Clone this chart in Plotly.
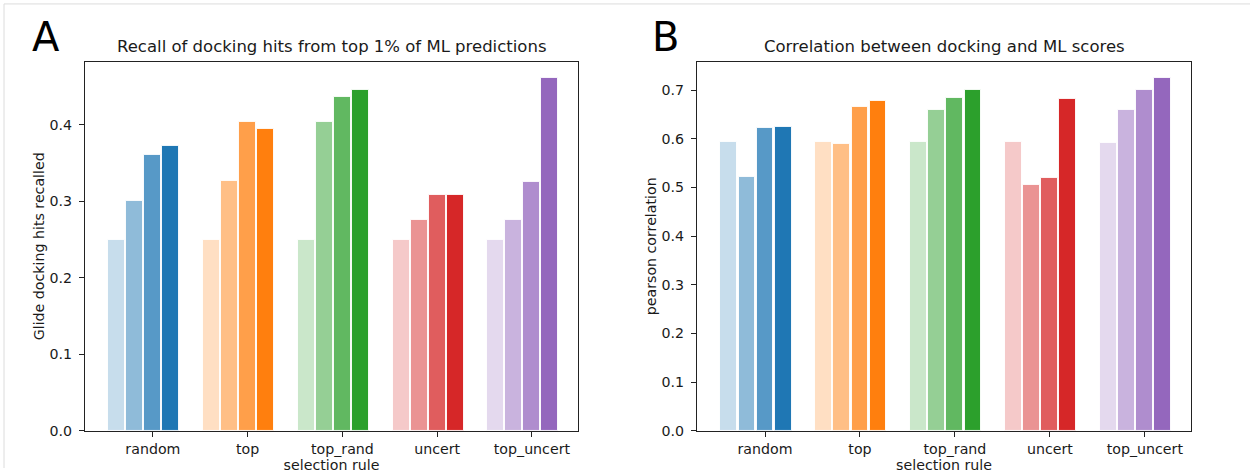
import plotly.graph_objects as go

# Selection rules (x groups) and the four shades drawn within each group
rules = ["random", "top", "top_rand", "uncert", "top_uncert"]
base_colors = ["#1f77b4", "#ff7f0e", "#2ca02c", "#d62728", "#9467bd"]
alphas = [0.25, 0.5, 0.75, 1.0]

# Recall of docking hits from top 1% of ML predictions, per rule and level
recall_random = [0.249, 0.300, 0.361, 0.372]
recall_top = [0.249, 0.327, 0.403, 0.394]
recall_top_rand = [0.249, 0.403, 0.436, 0.445]
recall_uncert = [0.249, 0.276, 0.308, 0.308]
recall_top_uncert = [0.249, 0.276, 0.325, 0.461]

# Pearson correlation between docking and ML scores, per rule and level
corr_random = [0.593, 0.521, 0.622, 0.624]
corr_top = [0.593, 0.590, 0.665, 0.678]
corr_top_rand = [0.593, 0.659, 0.684, 0.700]
corr_uncert = [0.593, 0.505, 0.519, 0.682]
corr_top_uncert = [0.592, 0.659, 0.700, 0.725]

recall = [recall_random, recall_top, recall_top_rand, recall_uncert, recall_top_uncert]
corr = [corr_random, corr_top, corr_top_rand, corr_uncert, corr_top_uncert]

STEP = 0.19      # offset between neighbouring bars within a group
BAR_W = 0.178    # drawn bar width


def rgba(hex_color, a):
    h = hex_color.lstrip("#")
    r, g, b = int(h[0:2], 16), int(h[2:4], 16), int(h[4:6], 16)
    return f"rgba({r},{g},{b},{a})"


FONT = "DejaVu Sans"
TXT = "#1a1a1a"
W, H = 1250, 476

fig = go.Figure()


def add_panel(values, xaxis, yaxis):
    for j, a in enumerate(alphas):
        xs = [i + j * STEP for i in range(len(rules))]
        ys = [values[i][j] for i in range(len(rules))]
        cols = [rgba(c, a) for c in base_colors]
        fig.add_trace(go.Bar(
            x=xs, y=ys, width=BAR_W,
            marker=dict(color=cols, line=dict(color="rgba(255,255,255,0.9)", width=1)),
            xaxis=xaxis, yaxis=yaxis, showlegend=False,
        ))


add_panel(recall, "x", "y")
add_panel(corr, "x2", "y2")

tickvals = [i + 2 * STEP for i in range(len(rules))]
last = len(rules) - 1 + 3 * STEP
span = last + BAR_W
xrange_ = [-BAR_W / 2 - 0.05 * span - 0.01, last + BAR_W / 2 + 0.05 * span - 0.03]

TICK_SIZE = 14.2
axis_common = dict(
    showline=True, linecolor="#222", linewidth=1, mirror=True,
    ticks="outside", ticklen=5, tickwidth=1, tickcolor="#222",
    showgrid=False, zeroline=False,
    tickfont=dict(family=FONT, size=TICK_SIZE, color=TXT),
)

ytop = 1 - 63 / H
ybot = 1 - 438 / H

fig.update_layout(
    width=W, height=H, autosize=False,
    margin=dict(l=0, r=0, t=0, b=0),
    paper_bgcolor="white", plot_bgcolor="white",
    barmode="overlay", bargap=0,
    font=dict(family=FONT, color=TXT),
    xaxis=dict(domain=[85 / W, 578 / W], range=xrange_, tickvals=tickvals,
               ticktext=rules, anchor="y",
               title=dict(text="selection rule", font=dict(family=FONT, size=TICK_SIZE, color=TXT), standoff=4),
               **axis_common),
    yaxis=dict(domain=[ybot, ytop], range=[0, 0.482], tickvals=[0, 0.1, 0.2, 0.3, 0.4],
               tickformat=".1f", anchor="x", ticklabelstandoff=4,
               title=dict(text="Glide docking hits recalled", font=dict(family=FONT, size=TICK_SIZE, color=TXT), standoff=1),
               **axis_common),
    xaxis2=dict(domain=[697 / W, 1191 / W], range=xrange_, tickvals=tickvals,
                ticktext=rules, anchor="y2",
                title=dict(text="selection rule", font=dict(family=FONT, size=TICK_SIZE, color=TXT), standoff=4),
                **axis_common),
    yaxis2=dict(domain=[ybot, ytop], range=[0, 0.758], tickvals=[0, 0.1, 0.2, 0.3, 0.4, 0.5, 0.6, 0.7],
                tickformat=".1f", anchor="x2", ticklabelstandoff=4,
                title=dict(text="pearson correlation", font=dict(family=FONT, size=TICK_SIZE, color=TXT), standoff=1),
                **axis_common),
)

# Panel titles and panel letters
annotations = [
    dict(text="Recall of docking hits from top 1% of ML predictions", x=(85 + 578) / 2 / W, y=1 - 47 / H,
         xref="paper", yref="paper", showarrow=False, xanchor="center", yanchor="middle",
         font=dict(family=FONT, size=16.5, color=TXT)),
    dict(text="Correlation between docking and ML scores", x=(697 + 1191) / 2 / W, y=1 - 47 / H,
         xref="paper", yref="paper", showarrow=False, xanchor="center", yanchor="middle",
         font=dict(family=FONT, size=16.5, color=TXT)),
    dict(text="A", x=30 / W, y=1 - 38 / H, xref="paper", yref="paper", showarrow=False,
         xanchor="left", yanchor="middle", font=dict(family=FONT, size=40, color="black")),
    dict(text="B", x=650 / W, y=1 - 38 / H, xref="paper", yref="paper", showarrow=False,
         xanchor="left", yanchor="middle", font=dict(family=FONT, size=40, color="black")),
]
fig.update_layout(annotations=annotations)

# Thin frame along the top and left edges of the figure
fig.add_shape(type="line", xref="paper", yref="paper", x0=4 / W, x1=1, y0=1 - 4 / H, y1=1 - 4 / H,
              line=dict(color="#dcdcdc", width=1))
fig.add_shape(type="line", xref="paper", yref="paper", x0=4 / W, x1=4 / W, y0=0, y1=1 - 4 / H,
              line=dict(color="#dcdcdc", width=1))

fig.write_html("out.html")
